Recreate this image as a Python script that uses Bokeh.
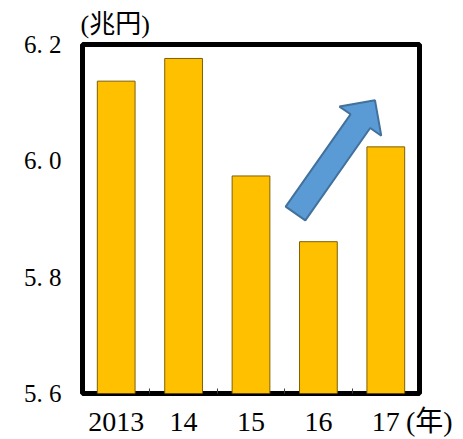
from bokeh.plotting import figure
from bokeh.models import Range1d, FixedTicker, Title, ColumnDataSource
from bokeh.embed import file_html
from bokeh.resources import INLINE

# ---- data ----
years = ["2013", "14", "15", "16", "17"]
values = [6.137, 6.176, 5.974, 5.861, 6.024]
y_ticks = [5.6, 5.8, 6.0, 6.2]
y_tick_labels = ["5. 6", "5. 8", "6. 0", "6. 2"]
unit_label = "(兆円)"
year_label = "(年)"

W, H = 463, 439
BL, BR, BT, BB = 82, 44, 44, 45
X0, X1 = 0.5, len(years) + 0.5
Y0, Y1 = 5.6, 6.2

p = figure(width=W, height=H, output_backend="svg", toolbar_location=None,
           x_range=Range1d(X0, X1), y_range=Range1d(Y0, Y1),
           min_border_left=BL, min_border_right=BR, min_border_top=BT, min_border_bottom=BB)
p.background_fill_color = "white"
p.border_fill_color = "white"
p.outline_line_color = "black"
p.outline_line_width = 5
p.xgrid.visible = False
p.ygrid.visible = False

xs = list(range(1, len(years) + 1))
src = ColumnDataSource(dict(x=xs, top=values))
p.vbar(x="x", top="top", bottom=Y0, width=0.56, source=src,
       fill_color="#FFC000", line_color="#7F6000", line_width=1)

serif = "'Liberation Serif', 'Noto Sans CJK JP'"

# x axis (year unit label sits at the right end of the axis)
p.xaxis.ticker = FixedTicker(ticks=xs + [X1], minor_ticks=[i + 0.5 for i in xs[:-1]])
overrides = {i: y for i, y in zip(xs, years)}
overrides[X1] = "\u2002\u2009" + year_label
p.xaxis.major_label_overrides = overrides
p.xaxis.axis_line_color = None
p.xaxis.major_tick_in = 0
p.xaxis.major_tick_out = 0
p.xaxis.minor_tick_in = 5
p.xaxis.minor_tick_out = 0
p.xaxis.minor_tick_line_color = "#404040"
p.xaxis.major_label_text_font = serif
p.xaxis.major_label_text_font_size = "28px"
p.xaxis.major_label_text_color = "black"
p.xaxis.major_label_standoff = 12

# y axis
p.yaxis.ticker = FixedTicker(ticks=y_ticks)
p.yaxis.major_label_overrides = {t: l for t, l in zip(y_ticks, y_tick_labels)}
p.yaxis.axis_line_color = None
p.yaxis.major_tick_in = 0
p.yaxis.major_tick_out = 0
p.yaxis.minor_tick_line_color = None
p.yaxis.major_label_text_font = serif
p.yaxis.major_label_text_font_size = "25px"
p.yaxis.major_label_text_color = "black"
p.yaxis.major_label_standoff = 21

# arrow annotation (defined in pixel geometry, converted to data space)
fw = W - BL - BR
fh = H - BT - BB
def px2data(px, py):
    return (X0 + (px - BL) / fw * (X1 - X0), Y1 - (py - BT) / fh * (Y1 - Y0))

tail = (295.0, 213.5)
tip = (374.5, 100.0)
shaft_half, head_half, head_len = 12.0, 25.5, 25.5
dx, dy = tip[0] - tail[0], tip[1] - tail[1]
L = (dx * dx + dy * dy) ** 0.5
ux, uy = dx / L, dy / L
nx, ny = -uy, ux
bx, by = tip[0] - ux * head_len, tip[1] - uy * head_len
pts = [
    (tail[0] + nx * shaft_half, tail[1] + ny * shaft_half),
    (bx + nx * shaft_half, by + ny * shaft_half),
    (bx + nx * head_half, by + ny * head_half),
    tip,
    (bx - nx * head_half, by - ny * head_half),
    (bx - nx * shaft_half, by - ny * shaft_half),
    (tail[0] - nx * shaft_half, tail[1] - ny * shaft_half),
]
dpts = [px2data(a, b) for a, b in pts]
p.patch([q[0] for q in dpts], [q[1] for q in dpts],
        fill_color="#5B9BD5", line_color="#41719C", line_width=2)

# unit label above the frame
p.add_layout(Title(text=unit_label, align="left", offset=-2, standoff=11,
                   text_font=serif, text_font_size="26px", text_font_style="normal",
                   text_color="black"), "above")

open("out.html", "w").write(file_html(p, INLINE))
